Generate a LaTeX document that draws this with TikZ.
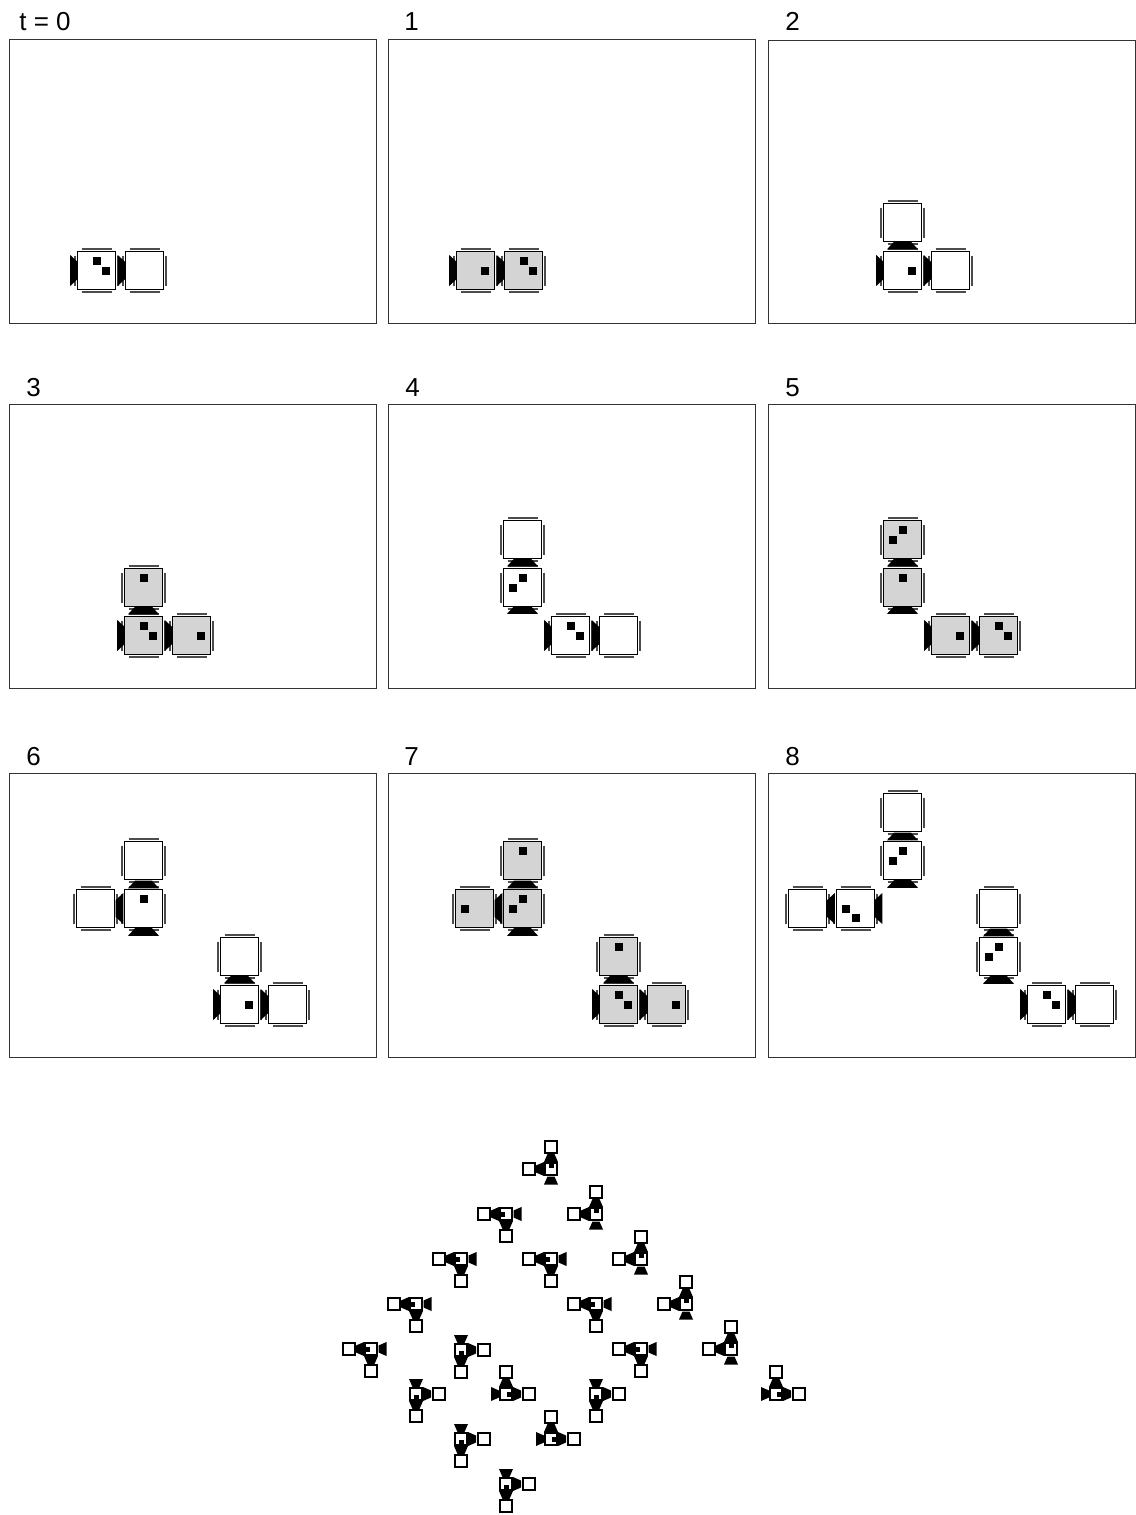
\documentclass[tikz,border=0pt]{standalone}
\usepackage{fontspec}
\setmainfont{Liberation Sans}
\usepackage{xcolor}
\definecolor{mygray}{rgb}{0.83, 0.83, 0.83}
\definecolor{mybar}{rgb}{0.30, 0.30, 0.30}
\tikzset{
    panel/.style={rectangle, draw=black!80, line width=0.5pt, minimum width=183.5pt, minimum height=141.7pt, inner sep=0pt},
    stamp/.style={anchor=base west, inner sep=0pt, font=\fontsize{13}{15}\selectfont},
    cellline/.style={draw=black, line width=0.6pt},
    barline/.style={draw=mybar, line width=0.7pt},
    tinyline/.style={draw=black, line width=1pt, fill=white}
}
% big cell: x, y, fill
\newcommand{\cellbox}[3]{
    \draw[barline] (#1-15,#2-21.4) -- (#1+15,#2-21.4) (#1-15,#2+21.4) -- (#1+15,#2+21.4);
    \draw[barline] (#1-21.4,#2-15) -- (#1-21.4,#2+15) (#1+21.4,#2-15) -- (#1+21.4,#2+15);
    \draw[cellline, fill=#3] (#1-18.7,#2-18.7) rectangle (#1+18.7,#2+18.7);
}
% black squares inside a big cell
\newcommand{\cellmark}[3]{
    \foreach \a in {#3} {
        \fill[black, shift={(#1,#2)}, shift={(\a:9.5)}] (-4,-4) rectangle (4,4);
    }
}
% valve: x, y, rotation (0 up, 90 left, -90 right, 180 down)
\newcommand{\valve}[3]{
    \fill[black, shift={(#1,#2)}, rotate=#3] (-8.5,-3.8) -- (8.5,-3.8) -- (15.5,3.8) -- (-15.5,3.8) -- cycle;
}
\newcommand{\tinyvalve}[3]{
    \fill[black, shift={(#1,#2)}, rotate=#3] (-3.5,-4) -- (3.5,-4) -- (7,4) -- (-7,4) -- cycle;
}
\newcommand{\tinycell}[2]{
    \draw[tinyline] (#1-6.3,#2-6.3) rectangle (#1+6.3,#2+6.3);
}
\newcommand{\tinymark}[3]{
    \fill[black, shift={(#1,#2)}, shift={(#3:3.5)}] (-2.5,-2.5) rectangle (2.5,2.5);
}
\begin{document}
\begin{tikzpicture}[x=0.5pt, y=-0.5pt]
    \useasboundingbox (0,0) rectangle (1135,1515);
    % panels
    \foreach \px/\py [count=\i] in {192.5/181.3, 571.5/181.3, 951.5/181.8, 192.5/546.3, 571.5/546.3, 951.5/546.3, 192.5/915.3, 571.5/915.3, 951.5/915.3}
        \node[panel] (f\i) at (\px,\py) {};
    \node[stamp] (t0) at (19,31) {t = 0};
    \node[stamp] (t1) at (404,31) {1};
    \node[stamp] (t2) at (785,31) {2};
    \node[stamp] (t3) at (26,396) {3};
    \node[stamp] (t4) at (405,396) {4};
    \node[stamp] (t5) at (785,396) {5};
    \node[stamp] (t6) at (26,765) {6};
    \node[stamp] (t7) at (404,765) {7};
    \node[stamp] (t8) at (785,765) {8};
    \begin{scope}[shift={(0.5,0.5)}]
    % frame 0
    \cellbox{96}{270}{white} \cellbox{144}{270}{white}
    \cellmark{96}{270}{270,0}
    \valve{73.5}{270}{-90} \valve{121}{270}{-90}
    % frame 1
    \cellbox{475}{270}{mygray} \cellbox{523}{270}{mygray}
    \cellmark{475}{270}{0} \cellmark{523}{270}{270,0}
    \valve{452.5}{270}{-90} \valve{500}{270}{-90}
    % frame 2
    \cellbox{902}{270}{white} \cellbox{950}{270}{white} \cellbox{902}{222}{white}
    \cellmark{902}{270}{0}
    \valve{879.5}{270}{-90} \valve{927}{270}{-90} \valve{902}{245}{0}
    % frame 3
    \cellbox{143}{635}{mygray} \cellbox{191}{635}{mygray} \cellbox{143}{587}{mygray}
    \cellmark{143}{635}{270,0} \cellmark{191}{635}{0} \cellmark{143}{587}{270}
    \valve{120.5}{635}{-90} \valve{168}{635}{-90} \valve{143}{610}{0}
    % frame 4
    \cellbox{570}{635}{white} \cellbox{618}{635}{white} \cellbox{522}{587}{white} \cellbox{522}{539}{white}
    \cellmark{570}{635}{270,0} \cellmark{522}{587}{270,180}
    \valve{547.5}{635}{-90} \valve{595}{635}{-90} \valve{522}{609.5}{0} \valve{522}{562}{0}
    % frame 5
    \cellbox{950}{635}{mygray} \cellbox{998}{635}{mygray} \cellbox{902}{587}{mygray} \cellbox{902}{539}{mygray}
    \cellmark{950}{635}{0} \cellmark{998}{635}{270,0} \cellmark{902}{587}{270} \cellmark{902}{539}{270,180}
    \valve{927.5}{635}{-90} \valve{975}{635}{-90} \valve{902}{609.5}{0} \valve{902}{562}{0}
    % frame 6
    \cellbox{143}{908}{white} \cellbox{95}{908}{white} \cellbox{143}{860}{white}
    \cellmark{143}{908}{270}
    \valve{119}{908}{90} \valve{143}{884}{0} \valve{143}{931.5}{0}
    \cellbox{239}{1004}{white} \cellbox{287}{1004}{white} \cellbox{239}{956}{white}
    \cellmark{239}{1004}{0}
    \valve{216.5}{1004}{-90} \valve{264}{1004}{-90} \valve{239}{979}{0}
    % frame 7
    \cellbox{522}{908}{mygray} \cellbox{474}{908}{mygray} \cellbox{522}{860}{mygray}
    \cellmark{522}{908}{270,180} \cellmark{474}{908}{180} \cellmark{522}{860}{270}
    \valve{498}{908}{90} \valve{522}{884}{0} \valve{522}{931.5}{0}
    \cellbox{618}{1004}{mygray} \cellbox{666}{1004}{mygray} \cellbox{618}{956}{mygray}
    \cellmark{618}{1004}{270,0} \cellmark{666}{1004}{0} \cellmark{618}{956}{270}
    \valve{595.5}{1004}{-90} \valve{643}{1004}{-90} \valve{618}{979}{0}
    % frame 8
    \cellbox{902}{860}{white} \cellbox{902}{812}{white} \cellbox{855}{908}{white} \cellbox{807}{908}{white}
    \cellmark{902}{860}{270,180} \cellmark{855}{908}{180,90}
    \valve{902}{836}{0} \valve{902}{883.5}{0} \valve{830.5}{908}{90} \valve{878}{908}{90}
    \cellbox{998}{956}{white} \cellbox{998}{908}{white} \cellbox{1046}{1004}{white} \cellbox{1094}{1004}{white}
    \cellmark{998}{956}{270,180} \cellmark{1046}{1004}{270,0}
    \valve{998}{932}{0} \valve{998}{979.5}{0} \valve{1023.5}{1004}{-90} \valve{1071}{1004}{-90}
    \end{scope}
    % small clusters
    \foreach \cx/\cy in {551/1169, 596/1214, 641/1259, 686/1304, 731/1349} {
        \tinycell{\cx}{\cy} \tinycell{\cx}{\cy-22} \tinycell{\cx-22}{\cy}
        \tinyvalve{\cx}{\cy-11}{0} \tinyvalve{\cx-11}{\cy}{90} \tinyvalve{\cx}{\cy+11.5}{0}
        \tinymark{\cx}{\cy}{270}
    }
    \foreach \cx/\cy in {506/1214, 461/1259, 416/1304, 371/1349, 551/1259, 596/1304, 641/1349} {
        \tinycell{\cx}{\cy} \tinycell{\cx-22}{\cy} \tinycell{\cx}{\cy+22}
        \tinyvalve{\cx-11}{\cy}{90} \tinyvalve{\cx+11.5}{\cy}{90} \tinyvalve{\cx}{\cy+11}{180}
        \tinymark{\cx}{\cy}{180}
    }
    \foreach \cx/\cy in {461/1350, 416/1394, 461/1439, 506/1484, 596/1394} {
        \tinycell{\cx}{\cy} \tinycell{\cx+23}{\cy} \tinycell{\cx}{\cy+22}
        \tinyvalve{\cx}{\cy-11}{180} \tinyvalve{\cx}{\cy+11}{180} \tinyvalve{\cx+11}{\cy}{-90}
        \tinymark{\cx}{\cy}{90}
    }
    \foreach \cx/\cy in {506/1394, 551/1439, 776/1394} {
        \tinycell{\cx}{\cy} \tinycell{\cx}{\cy-22} \tinycell{\cx+23}{\cy}
        \tinyvalve{\cx-11}{\cy}{-90} \tinyvalve{\cx+11}{\cy}{-90} \tinyvalve{\cx}{\cy-11}{0}
        \tinymark{\cx}{\cy}{0}
    }
\end{tikzpicture}
\end{document}
